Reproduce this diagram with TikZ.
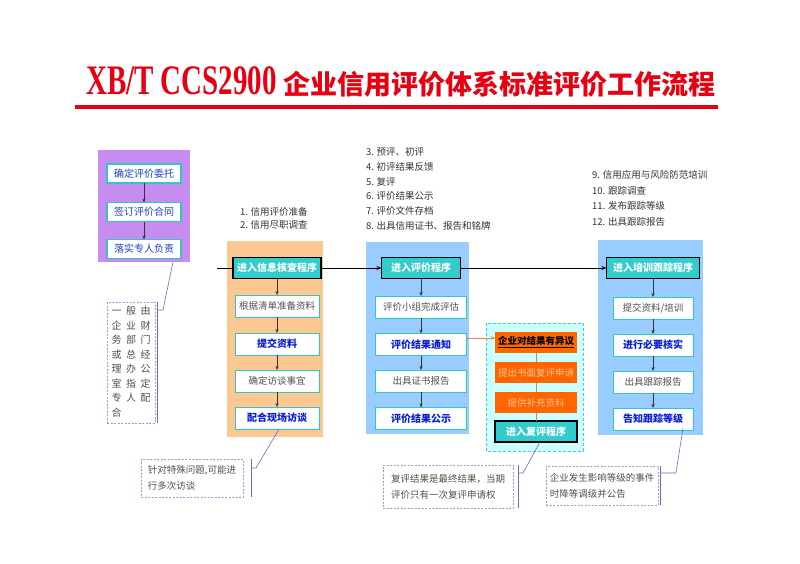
\documentclass[tikz,border=0pt]{standalone}
\usepackage{fontspec}
\usepackage{graphicx}
\setmainfont{Noto Sans CJK SC}
\newfontfamily\latinserif{Liberation Serif}
\usetikzlibrary{arrows.meta}
\definecolor{titlered}{HTML}{E60012}
\definecolor{purplebg}{HTML}{C68CF0}
\definecolor{orangebg}{HTML}{FBC891}
\definecolor{bluebg}{HTML}{99CCFF}
\definecolor{tealf}{HTML}{33CCCC}
\definecolor{tealb}{HTML}{33C6C6}
\definecolor{orangebox}{HTML}{FF6600}
\definecolor{orangetxt}{HTML}{FFBE96}
\definecolor{cyanbg}{HTML}{CCFFFF}
\definecolor{cyanbd}{HTML}{44C8EE}
\definecolor{bluetxt}{HTML}{0A1ED2}
\definecolor{pbluetxt}{HTML}{2040C0}
\definecolor{greytxt}{HTML}{505050}
\definecolor{anntxt}{HTML}{333333}
\definecolor{brownln}{HTML}{C98A4B}
\definecolor{calloutc}{HTML}{9A9AE8}
\definecolor{leaderc}{HTML}{6A6AD0}
\definecolor{orangeln}{HTML}{F08040}
\begin{document}
\begin{tikzpicture}[x=1pt,y=-1pt,
  every node/.style={inner sep=0pt, outer sep=0pt},
  pbox/.style={draw=tealb, line width=1.4pt, fill=white, minimum width=74pt, minimum height=19pt, text=pbluetxt, font=\fontsize{10}{10}\selectfont},
  inbox/.style={draw=tealb, line width=1pt, fill=white, minimum height=22pt, text=greytxt, font=\fontsize{9.5}{9.5}\selectfont},
  inboxb/.style={inbox, text=bluetxt, font=\fontsize{10}{10}\selectfont\bfseries},
  tealbox/.style={draw=black, line width=1.4pt, fill=tealf, text=white, minimum height=21pt, font=\fontsize{10}{10}\selectfont\bfseries},
  obox/.style={fill=orangebox, minimum width=82pt, minimum height=21pt, text=orangetxt, font=\fontsize{9.5}{9.5}\selectfont},
  arr/.style={-{Stealth[length=4pt,width=3.2pt]}, draw=anntxt, line width=0.7pt},
  callout/.style={draw=calloutc, dash pattern=on 2pt off 1.5pt, line width=0.7pt, text=greytxt, font=\fontsize{9.5}{16}\selectfont, align=left},
  leader/.style={draw=leaderc, line width=0.6pt},
  ann/.style={text=anntxt, font=\fontsize{9.5}{14.8}\selectfont, align=left, anchor=west}
]
\useasboundingbox (0,0) rectangle (800,564);
\fill[white] (0,0) rectangle (800,564);

% title
\node[text=titlered] (title) at (401,82) {{\latinserif\bfseries\scalebox{0.69}[1]{\fontsize{42}{42}\selectfont XB/T CCS2900}}\hspace{7pt}{\fontsize{27}{27}\selectfont\bfseries 企业信用评价体系标准评价工作流程}};
\draw[titlered, line width=4pt] (75,107.5) -- (718,107.5);

% backgrounds
\fill[purplebg] (98,150) rectangle (190,262);
\fill[orangebg] (227,241) rectangle (323,437);
\fill[bluebg] (366,242) rectangle (469,434);
\fill[bluebg] (598,240) rectangle (703,435);
\fill[cyanbg] (486,323) rectangle (583,451);
\draw[cyanbd, dash pattern=on 3pt off 2pt, line width=0.8pt] (486,323) rectangle (583,451);

% purple stack
\node[pbox] (P1) at (144,173.5) {确定评价委托};
\node[pbox] (P2) at (144,212) {签订评价合同};
\node[pbox] (P3) at (144,249) {落实专人负责};
\draw[arr] (P1.south) -- (P2.north);
\draw[arr] (P2.south) -- (P3.north);

% annotations
\node[ann, font=\fontsize{9.5}{13.3}\selectfont] (a1) at (240,218.5) {1. 信用评价准备\\2. 信用尽职调查};
\node[ann] (a2) at (366,189) {3. 预评、初评\\4. 初评结果反馈\\5. 复评\\6. 评价结果公示\\7. 评价文件存档\\8. 出具信用证书、报告和铭牌};
\node[ann, font=\fontsize{9.5}{15.6}\selectfont] (a3) at (592,198.5) {9. 信用应用与风险防范培训\\10. 跟踪调查\\11. 发布跟踪等级\\12. 出具跟踪报告};

% orange stack
\node[tealbox, minimum width=88pt] (O0) at (277,268) {进入信息核查程序};
\node[inbox, minimum width=84pt] (O1) at (277,306) {根据清单准备资料};
\node[inboxb, minimum width=84pt] (O2) at (277,344) {提交资料};
\node[inbox, minimum width=84pt] (O3) at (277,381) {确定访谈事宜};
\node[inboxb, minimum width=84pt] (O4) at (277,418) {配合现场访谈};
\draw[arr] (O0.south) -- (O1.north);
\draw[arr] (O1.south) -- (O2.north);
\draw[arr] (O2.south) -- (O3.north);
\draw[arr] (O3.south) -- (O4.north);

% middle stack
\node[tealbox, minimum width=79pt] (B0) at (421,268) {进入评价程序};
\node[inbox, minimum width=91pt] (B1) at (421,307) {评价小组完成评估};
\node[inboxb, minimum width=91pt] (B2) at (421,344.5) {评价结果通知};
\node[inbox, minimum width=91pt] (B3) at (421,381) {出具证书报告};
\node[inboxb, minimum width=91pt] (B4) at (421,418.5) {评价结果公示};
\draw[arr] (B0.south) -- (B1.north);
\draw[arr] (B1.south) -- (B2.north);
\draw[arr] (B2.south) -- (B3.north);
\draw[arr] (B3.south) -- (B4.north);

% right stack
\node[tealbox, minimum width=93pt] (R0) at (653,268) {进入培训跟踪程序};
\node[inbox, minimum width=80pt] (R1) at (653,308) {提交资料/培训};
\node[inboxb, minimum width=80pt] (R2) at (653,345) {进行必要核实};
\node[inbox, minimum width=80pt] (R3) at (653,382) {出具跟踪报告};
\node[inboxb, minimum width=80pt] (R4) at (653,419) {告知跟踪等级};
\draw[arr] (R0.south) -- (R1.north);
\draw[arr] (R1.south) -- (R2.north);
\draw[arr] (R2.south) -- (R3.north);
\draw[arr] (R3.south) -- (R4.north);

% main horizontal connectors
\coordinate (stub) at (217,268);
\draw[black, line width=0.8pt] (stub) -- (O0.west);
\draw[black, line width=0.8pt, -{Stealth[length=5pt,width=4pt]}] (O0.east) -- (B0.west);
\draw[black, line width=0.8pt, -{Stealth[length=5pt,width=4pt]}] (B0.east) -- (R0.west);

% review stack
\node[obox, text=black, font=\fontsize{9.5}{9.5}\selectfont\bfseries] (C1) at (536,342) {\underline{企业对结果有异议}};
\node[obox] (C2) at (536,372.5) {提出书面复评申请};
\node[obox] (C3) at (536,402.5) {提供补充资料};
\node[tealbox, minimum width=82pt] (C4) at (536,431.5) {进入复评程序};
\draw[brownln, line width=1pt] (C1.south) -- (C2.north);
\draw[brownln, line width=1pt] (C2.south) -- (C3.north);
\draw[brownln, line width=1pt] (C3.south) -- (C4.north);
\draw[orangeln, line width=1pt, -{Stealth[length=4pt,width=3.5pt]}] ([yshift=6.5pt]B2.east) -- ([yshift=6.5pt]B2.east -| C1.west);

% callouts
\node[callout, anchor=north west, minimum width=48pt, minimum height=121pt, font=\fontsize{10}{14.5}\selectfont] (vt) at (107,302)
 {\begin{tabular}{@{}c@{\hspace{4.5pt}}c@{\hspace{4.5pt}}c@{}}
 一&般&由\\ 企&业&财\\ 务&部&门\\ 或&总&经\\ 理&办&公\\ 室&指&定\\ 专&人&配\\ 合&&
 \end{tabular}};
\coordinate (t1) at (173,262);
\draw[leader] ([xshift=2pt]vt.north east) -- ([xshift=2pt]vt.south east);
\draw[leader] ([xshift=2pt,yshift=-8pt]vt.north east) -- ++(6,0) -- (t1);

\node[callout, anchor=north west, minimum width=102pt, minimum height=38pt] (k1) at (141,459) {针对特殊问题,可能进\\行多次访谈};
\draw[leader] ([xshift=8pt]k1.north east) -- ([xshift=8pt]k1.south east);
\draw[leader] ([xshift=8pt,yshift=-9pt]k1.north east) -- ++(5,0) -- ([xshift=2pt]O4.south);

\node[callout, anchor=north west, minimum width=130pt, minimum height=43pt] (k2) at (383,465) {复评结果是最终结果，当期\\评价只有一次复评申请权};
\draw[leader] ([xshift=5pt]k2.north east) -- ([xshift=5pt]k2.south east);
\draw[leader] ([xshift=5pt,yshift=-8pt]k2.north east) -- ++(5,0) -- ([xshift=4pt]C4.south);

\node[callout, anchor=north west, minimum width=112pt, minimum height=39pt] (k3) at (546,466) {企业发生影响等级的事件\\时降等调级并公告};
\draw[leader] ([xshift=2pt]k3.north east) -- ([xshift=2pt]k3.south east);
\draw[leader] ([xshift=2pt,yshift=-7pt]k3.north east) -- ++(16,0) -- ([xshift=30pt,yshift=2pt]R4.south);
\end{tikzpicture}
\end{document}
